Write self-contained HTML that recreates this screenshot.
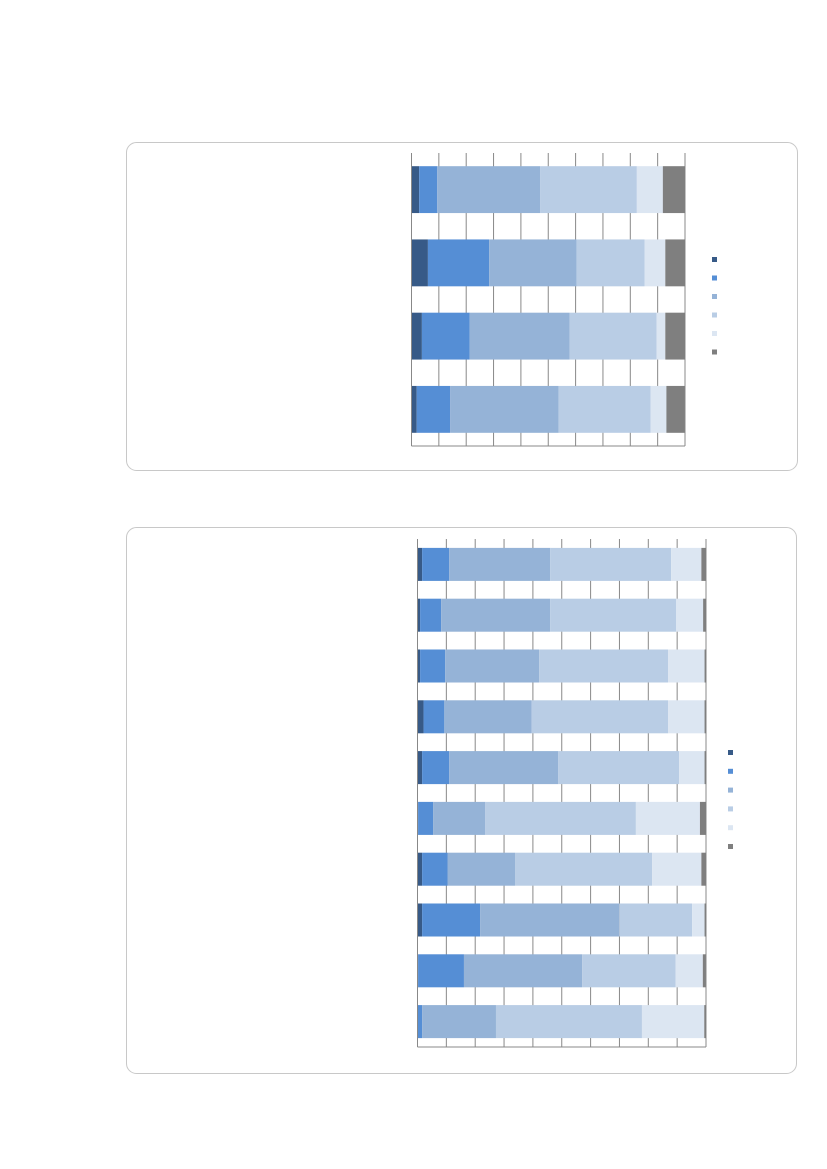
<!DOCTYPE html>
<html><head><meta charset="utf-8"><style>
html,body{margin:0;padding:0;background:#fff;width:827px;height:1169px;overflow:hidden;font-family:"Liberation Sans",sans-serif}
svg{position:absolute;left:0;top:0}
</style></head><body>
<svg id="chart" width="827" height="1169" xmlns="http://www.w3.org/2000/svg">
<rect x="126.5" y="142.5" width="671" height="328" rx="10" fill="#fff" stroke="#c8c8c8"/>
<rect x="126.5" y="527.5" width="670" height="546" rx="10" fill="#fff" stroke="#c8c8c8"/>
</svg>
<script>
const colors = ["#375a87","#558ed5","#95b3d7","#b9cde5","#dce6f2","#7f7f7f"];
const topCategories = ["A","B","C","D"];
const topS1 = [2.8, 6.0, 3.8, 1.9];
const topS2 = [6.6, 22.4, 17.5, 12.2];
const topS3 = [37.6, 32.0, 36.5, 39.7];
const topS4 = [35.4, 24.8, 31.8, 33.6];
const topS5 = [9.5, 7.6, 3.2, 5.8];
const topS6 = [8.1, 7.2, 7.2, 6.7];
const botCategories = ["1","2","3","4","5","6","7","8","9","10"];
const botS1 = [1.6,0.9,0.9,2.1,1.6,0.2,1.6,1.6,0.2,0];
const botS2 = [9.4,7.3,8.7,7.2,9.4,5.2,8.8,20.1,15.9,1.6];
const botS3 = [35.0,37.8,32.6,30.3,37.8,18.1,23.4,48.2,41.0,25.6];
const botS4 = [41.9,43.6,44.7,47.3,41.9,52.2,47.5,25.3,32.4,50.6];
const botS5 = [10.5,9.4,12.6,12.6,8.8,22.2,17.1,4.3,9.4,21.6];
const botS6 = [1.6,1.0,0.6,0.6,0.6,2.1,1.6,0.6,1.0,0.6];
const xTicks = [0,10,20,30,40,50,60,70,80,90,100];

const svg = document.getElementById('chart');
const NS = "http://www.w3.org/2000/svg";
function mk(tag, attrs){const e=document.createElementNS(NS,tag);for(const k in attrs)e.setAttribute(k,attrs[k]);svg.appendChild(e);return e;}

function draw(prefix, cats, series, L, R, T, B, barFrac, legX, legY, legStep){
  const x = v => L + (R-L)*v/100;
  const band = (B-T)/cats.length;
  const y = i => T + band*i;
  xTicks.forEach(t=>{
    const g = mk('line',{x1:x(t),x2:x(t),y1:T,y2:B,stroke:'#888','stroke-width':1});
    
    
  });
  const bh = band*barFrac;
  cats.forEach((c,i)=>{
    let acc=0;
    series.forEach((s,k)=>{
      const v=s[i];
      const r = mk('rect',{x:x(acc),y:y(i)+(band-bh)/2,width:Math.max(0,x(acc+v)-x(acc)),height:bh,fill:colors[k]});
      
      
      acc+=v;
    });
  });
  const ax = mk('line',{x1:L,x2:L,y1:T,y2:B,stroke:'#888','stroke-width':1});
  
  
  const bx = mk('line',{x1:L,x2:R,y1:B,y2:B,stroke:'#888','stroke-width':1});
  
  
  colors.forEach((col,k)=>{
    const m = mk('rect',{x:legX,y:legY+k*legStep,width:5,height:5,fill:col});
    
    
  });
}
draw('top', topCategories, [topS1,topS2,topS3,topS4,topS5,topS6], 411.5, 685, 153, 446, 0.64, 712, 257, 18.5);
draw('bottom', botCategories, [botS1,botS2,botS3,botS4,botS5,botS6], 417.5, 706, 539, 1047, 0.65, 728, 750, 18.8);
</script>
</body></html>
